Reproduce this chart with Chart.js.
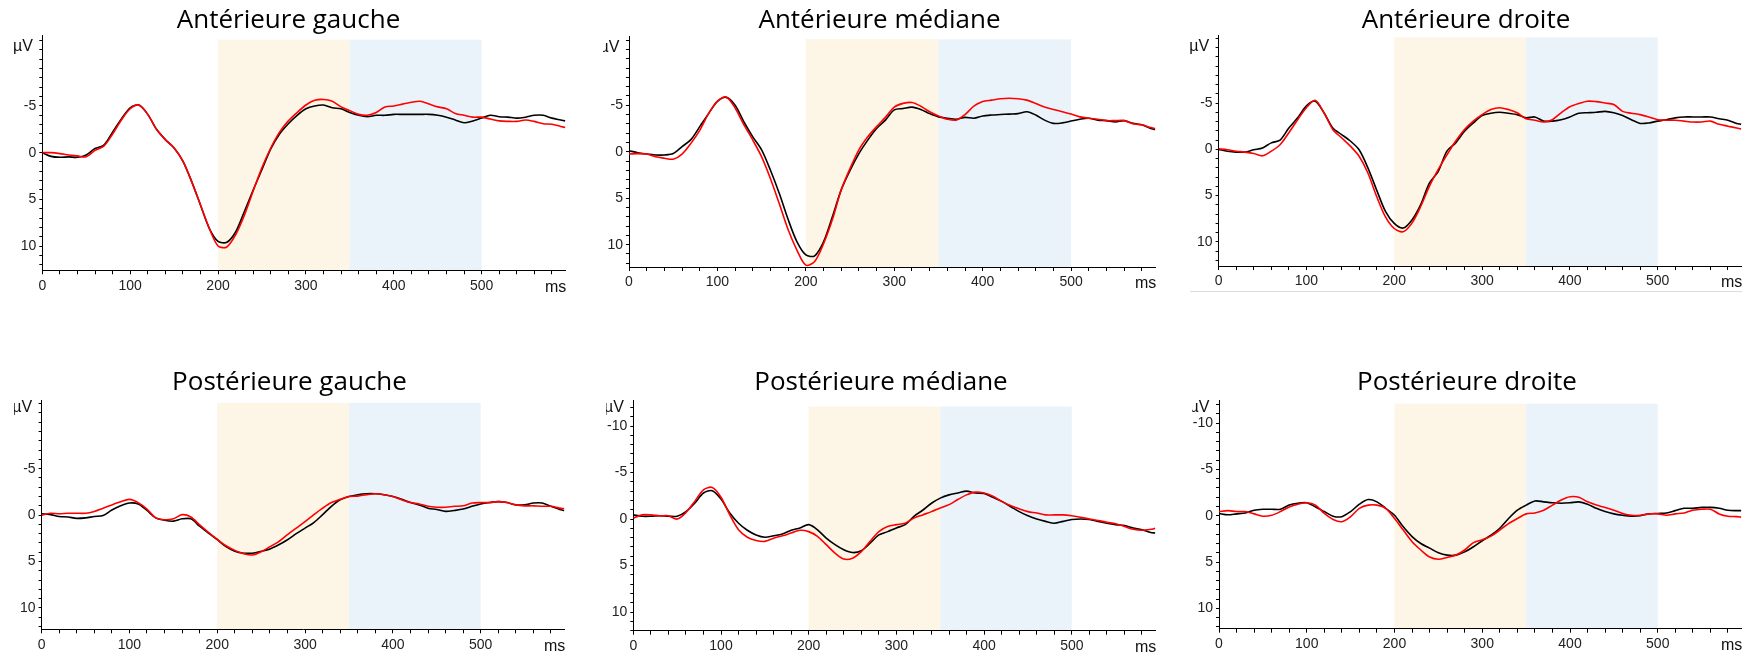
<!DOCTYPE html>
<html>
<head>
<meta charset="utf-8">
<script src="https://cdn.jsdelivr.net/npm/chart.js@4.4.1/dist/chart.umd.min.js"></script>
<style>
  body { margin: 0; background: #fff; width: 1756px; height: 660px; position: relative; overflow: hidden; }
  canvas { position: absolute; }
</style>
</head>
<body>
<script>
// time axis (ms) and the six electrode regions
const timesMs = [0, 10, 20, 30, 40, 50, 60, 70, 80, 90, 100, 110, 120, 130, 140, 150, 160, 170, 180, 190,
  200, 210, 220, 230, 240, 250, 260, 270, 280, 290, 300, 310, 320, 330, 340, 350, 360, 370, 380, 390,
  400, 410, 420, 430, 440, 450, 460, 470, 480, 490, 500, 510, 520, 530, 540, 550, 560, 570, 580, 590, 595]

const panelTitles = ['Antérieure gauche', 'Antérieure médiane', 'Antérieure droite',
  'Postérieure gauche', 'Postérieure médiane', 'Postérieure droite']

// µV, negative up
const antGaucheNoir = [0, 0.4, 0.5, 0.45, 0.5, 0.25, -0.45, -0.8, -2.2, -3.6, -4.8, -5.1, -4.1, -2.5, -1.4, -0.5, 0.9, 3.1, 5.6, 8.1,
  9.5, 9.6, 8.5, 6.3, 4.0, 1.8, -0.4, -2.0, -3.1, -4.0, -4.7, -5.0, -5.1, -4.8, -4.7, -4.3, -4.0, -3.85, -4.0, -4.0,
  -4.1, -4.1, -4.1, -4.1, -4.1, -4.0, -3.8, -3.5, -3.2, -3.4, -3.7, -4.0, -3.85, -3.8, -3.7, -3.8, -4.0, -4.0, -3.7, -3.5, -3.4]
const antGaucheRouge = [0, 0, 0.1, 0.25, 0.35, 0.45, -0.25, -0.7, -2.0, -3.5, -4.7, -5.1, -4.1, -2.5, -1.4, -0.5, 0.9, 3.1, 5.6, 8.1,
  10.0, 10.1, 8.8, 6.7, 4.1, 1.6, -0.5, -2.2, -3.4, -4.3, -5.1, -5.6, -5.7, -5.5, -4.9, -4.5, -4.1, -4.0, -4.3, -4.9,
  -5.0, -5.2, -5.4, -5.5, -5.2, -4.9, -4.7, -4.2, -4.0, -3.8, -3.8, -3.6, -3.4, -3.35, -3.35, -3.5, -3.35, -3.1, -3.05, -2.8, -2.7]

const antMedianeNoir = [-0.1, 0.1, 0.25, 0.35, 0.35, 0.2, -0.55, -1.3, -2.7, -4.1, -5.4, -5.85, -5.0, -3.2, -1.6, -0.2, 2.0, 4.5, 7.3, 9.7,
  11.1, 11.2, 9.7, 7.0, 4.1, 2.0, 0.2, -1.25, -2.5, -3.4, -4.5, -4.65, -4.8, -4.55, -4.1, -3.75, -3.6, -3.5, -3.7, -3.6,
  -3.85, -3.95, -4.0, -4.05, -4.1, -4.3, -3.95, -3.4, -3.05, -3.1, -3.3, -3.5, -3.6, -3.4, -3.35, -3.2, -3.35, -3.05, -2.9, -2.5, -2.4]
const antMedianeRouge = [0.25, 0.2, 0.25, 0.55, 0.7, 0.8, 0.25, -0.9, -2.3, -4.1, -5.45, -5.9, -4.7, -2.9, -1.25, 0.55, 2.9, 5.6, 8.4, 10.6,
  12.2, 11.8, 9.9, 7.3, 4.1, 1.8, -0.2, -1.6, -2.7, -3.7, -4.8, -5.2, -5.3, -4.9, -4.3, -3.85, -3.5, -3.4, -4.0, -4.9,
  -5.4, -5.55, -5.7, -5.75, -5.7, -5.55, -5.2, -4.8, -4.55, -4.3, -4.05, -3.75, -3.6, -3.5, -3.35, -3.35, -3.35, -3.0, -2.9, -2.6, -2.5]

const antDroiteNoir = [0, 0.2, 0.3, 0.3, 0.05, -0.15, -0.7, -1.0, -2.3, -3.4, -4.7, -5.2, -3.95, -2.3, -1.6, -0.9, 0.05, 2.0, 4.4, 6.7,
  8.0, 8.5, 7.65, 6.0, 3.65, 2.4, 0.2, -0.7, -1.95, -2.85, -3.65, -3.9, -4.0, -3.9, -3.75, -3.4, -3.5, -3.05, -3.05, -3.2,
  -3.5, -3.9, -3.95, -4.0, -4.1, -3.95, -3.65, -3.2, -2.8, -2.85, -3.05, -3.2, -3.4, -3.5, -3.5, -3.5, -3.5, -3.3, -3.15, -2.8, -2.7]
const antDroiteRouge = [-0.05, 0.05, 0.2, 0.3, 0.45, 0.7, 0.2, -0.5, -1.8, -3.2, -4.5, -5.3, -3.95, -2.15, -1.25, -0.35, 0.75, 2.55, 5.1, 7.3,
  8.55, 8.9, 8.0, 6.2, 4.0, 2.2, 0.6, -0.9, -2.15, -3.05, -3.75, -4.3, -4.5, -4.3, -3.95, -3.3, -3.15, -2.95, -3.2, -3.95,
  -4.6, -4.95, -5.2, -5.15, -5.0, -4.85, -4.1, -3.9, -3.75, -3.5, -3.2, -3.15, -3.15, -3.05, -2.95, -2.95, -3.05, -2.7, -2.5, -2.3, -2.2]

const postGaucheNoir = [-0.15, -0.05, 0.15, 0.2, 0.35, 0.3, 0.15, 0.05, -0.55, -1.0, -1.3, -1.2, -0.5, 0.3, 0.55, 0.65, 0.4, 0.4, 1.2, 1.95,
  2.65, 3.4, 3.9, 4.1, 4.1, 3.9, 3.65, 3.2, 2.65, 2.0, 1.4, 0.8, -0.05, -0.95, -1.65, -2.0, -2.2, -2.3, -2.3, -2.2,
  -2.0, -1.7, -1.35, -1.1, -0.75, -0.6, -0.4, -0.5, -0.65, -0.95, -1.2, -1.35, -1.45, -1.35, -1.1, -1.1, -1.3, -1.3, -0.95, -0.6, -0.5]
const postGaucheRouge = [0, -0.2, -0.15, -0.2, -0.2, -0.2, -0.4, -0.75, -1.1, -1.45, -1.7, -1.35, -0.65, 0.3, 0.5, 0.4, -0.05, 0.2, 1.05, 1.85,
  2.6, 3.3, 3.8, 4.15, 4.3, 3.95, 3.4, 2.85, 2.1, 1.4, 0.7, -0.05, -0.75, -1.35, -1.7, -2.0, -2.05, -2.2, -2.3, -2.2,
  -2.0, -1.65, -1.35, -1.2, -0.95, -0.85, -0.85, -0.95, -1.0, -1.3, -1.35, -1.35, -1.45, -1.35, -1.1, -1.0, -1.0, -0.95, -0.95, -0.75, -0.7]

const postMedianeNoir = [-0.45, -0.3, -0.3, -0.35, -0.3, -0.3, -0.8, -1.7, -2.8, -3.05, -2.15, -0.65, 0.45, 1.2, 1.7, 1.95, 1.8, 1.6, 1.2, 0.95,
  0.6, 1.15, 2.05, 2.75, 3.3, 3.6, 3.4, 2.6, 1.7, 1.35, 0.95, 0.6, -0.3, -0.95, -1.7, -2.25, -2.6, -2.8, -3.0, -2.8,
  -2.75, -2.35, -1.9, -1.35, -0.8, -0.35, 0, 0.25, 0.45, 0.25, 0.05, 0, 0.05, 0.25, 0.45, 0.6, 0.7, 0.95, 1.15, 1.45, 1.5]
const postMedianeRouge = [-0.1, -0.45, -0.45, -0.35, -0.35, 0, -0.7, -1.9, -3.15, -3.4, -2.35, -0.45, 1.15, 1.95, 2.3, 2.4, 2.05, 1.8, 1.5, 1.2,
  1.35, 1.85, 2.75, 3.65, 4.3, 4.2, 3.5, 2.4, 1.35, 0.8, 0.6, 0.45, -0.1, -0.45, -0.8, -1.2, -1.55, -2.1, -2.6, -2.9,
  -2.8, -2.45, -1.9, -1.45, -1.1, -0.8, -0.65, -0.45, -0.45, -0.45, -0.35, -0.2, 0, 0.15, 0.35, 0.5, 0.8, 1.1, 1.2, 1.1, 1.0]

const postDroiteNoir = [-0.25, -0.1, -0.2, -0.3, -0.6, -0.7, -0.7, -0.7, -1.15, -1.35, -1.4, -0.95, -0.45, 0.05, 0.1, -0.45, -1.25, -1.75, -1.5, -0.8,
  -0.05, 1.2, 2.25, 3.0, 3.5, 4.0, 4.25, 4.25, 3.9, 3.35, 2.7, 2.1, 1.35, 0.3, -0.6, -1.15, -1.6, -1.5, -1.4, -1.35,
  -1.4, -1.5, -1.25, -0.8, -0.45, -0.2, -0.05, 0.05, 0, -0.2, -0.25, -0.3, -0.55, -0.8, -0.8, -0.9, -0.9, -0.8, -0.6, -0.55, -0.55]
const postDroiteRouge = [-0.45, -0.55, -0.45, -0.45, -0.2, 0.05, -0.05, -0.45, -0.95, -1.25, -1.4, -1.15, -0.25, 0.4, 0.65, 0.1, -0.8, -1.15, -1.15, -0.8,
  0.3, 1.55, 2.8, 3.7, 4.45, 4.7, 4.5, 4.25, 3.7, 2.9, 2.6, 2.2, 1.55, 0.85, 0.3, -0.2, -0.3, -0.6, -1.15, -1.7,
  -2.05, -2.0, -1.5, -1.15, -0.9, -0.6, -0.25, -0.05, -0.05, -0.2, -0.2, -0.05, -0.2, -0.3, -0.6, -0.7, -0.7, -0.2, 0.05, 0.1, 0.15]

const seriesNoir = [antGaucheNoir, antMedianeNoir, antDroiteNoir, postGaucheNoir, postMedianeNoir, postDroiteNoir]
const seriesRouge = [antGaucheRouge, antMedianeRouge, antDroiteRouge, postGaucheRouge, postMedianeRouge, postDroiteRouge]

// analysis windows (ms)
const windowsMs = [[200, 350], [350, 500]]
const windowColors = ['#fdf5e5', '#ebf3fa']

// where each little plot sits on the page
const panels = [
  {left: 11,   top: 0,   width: 555, height: 300, axisW: 31.3, titleTop: 7.3, titleBottom: 1.7, axisBottom: 270.3, yMin: -12.6,  yMax: 12.6, minus10: false, unitDy: 12},
  {left: 603,  top: 0,   width: 553, height: 300, axisW: 26,   titleTop: 7.3, titleBottom: 2.7, axisBottom: 267,   yMin: -12.45, yMax: 12.4, minus10: false, unitDy: 12},
  {left: 1190, top: 0,   width: 552, height: 300, axisW: 28.6, titleTop: 7.3, titleBottom: 1.7, axisBottom: 266,   yMin: -12.35, yMax: 12.6, minus10: false, unitDy: 12, frame: true},
  {left: 14,   top: 360, width: 551, height: 300, axisW: 27.6, titleTop: 9.7, titleBottom: 4.3, axisBottom: 269.3, yMin: -12.4,  yMax: 12.3, minus10: false, unitDy: 7.5},
  {left: 606,  top: 360, width: 550, height: 300, axisW: 27.3, titleTop: 9.7, titleBottom: 4.3, axisBottom: 270.7, yMin: -12.8,  yMax: 12.0, minus10: true,  unitDy: 7.5},
  {left: 1192, top: 360, width: 550, height: 300, axisW: 27,   titleTop: 9.7, titleBottom: 4.3, axisBottom: 268.7, yMin: -12.5,  yMax: 12.2, minus10: true,  unitDy: 7.5}
]

const tickFont = {family: 'Liberation Sans, Arial, sans-serif', size: 14}

// shaded windows + unit labels
const decorPlugin = {
  id: 'decor',
  beforeDraw(chart) {
    let ctx = chart.ctx
    let xs = chart.scales.x
    let ys = chart.scales.y
    let top = ys.getPixelForValue(-12.1)
    let bottom = chart.chartArea.bottom
    ctx.save()
    windowsMs.forEach((w, i) => {
      let x0 = xs.getPixelForValue(w[0])
      let x1 = xs.getPixelForValue(w[1])
      ctx.fillStyle = windowColors[i]
      ctx.fillRect(x0, top, x1 - x0, bottom - top)
    })
    ctx.restore()
  },
  afterDraw(chart) {
    let ctx = chart.ctx
    let area = chart.chartArea
    let p = chart.options.plugins.decor
    ctx.save()
    ctx.fillStyle = '#111'
    ctx.font = '16px "Liberation Sans", Arial, sans-serif'
    ctx.textBaseline = 'middle'
    ctx.textAlign = 'right'
    ctx.fillText('µV', area.left - 9.5, area.top + p.unitDy)
    ctx.textAlign = 'left'
    ctx.fillText('ms', area.right - 21, area.bottom + 17)
    if (p.frame) {
      ctx.strokeStyle = '#dcdcdc'
      ctx.lineWidth = 1
      ctx.beginPath()
      ctx.moveTo(0, 291.5)
      ctx.lineTo(chart.width, 291.5)
      ctx.stroke()
    }
    ctx.restore()
  }
}

panels.forEach((p, i) => {
  let canvas = document.createElement('canvas')
  canvas.width = p.width
  canvas.height = p.height
  canvas.style.left = p.left + 'px'
  canvas.style.top = p.top + 'px'
  canvas.style.width = p.width + 'px'
  canvas.style.height = p.height + 'px'
  document.body.appendChild(canvas)

  let noir = timesMs.map((t, k) => ({x: t, y: seriesNoir[i][k]}))
  let rouge = timesMs.map((t, k) => ({x: t, y: seriesRouge[i][k]}))

  new Chart(canvas, {
    type: 'line',
    data: {
      datasets: [
        {data: noir, borderColor: '#000000', borderWidth: 1.6, pointRadius: 0, tension: 0.3, order: 1},
        {data: rouge, borderColor: '#ff0000', borderWidth: 1.6, pointRadius: 0, tension: 0.3, order: 0}
      ]
    },
    options: {
      responsive: false,
      animation: false,
      devicePixelRatio: 1,
      layout: {padding: 0},
      plugins: {
        legend: {display: false},
        tooltip: {enabled: false},
        title: {
          display: true,
          text: panelTitles[i],
          color: '#000',
          font: {family: 'Open Sans, sans-serif', size: 26, weight: 'normal', lineHeight: 1.0},
          padding: {top: p.titleTop, bottom: p.titleBottom}
        },
        decor: {frame: !!p.frame, unitDy: p.unitDy}
      },
      scales: {
        x: {
          type: 'linear',
          min: 0,
          max: 596,
          afterFit: s => { s.height = p.height - p.axisBottom },
          ticks: {
            stepSize: 20, includeBounds: false, autoSkip: false, maxRotation: 0, padding: 3,
            color: '#222', font: tickFont,
            callback: v => v % 100 === 0 ? String(v) : ''
          },
          grid: {drawOnChartArea: false, drawTicks: true, tickLength: 4, color: '#000'},
          border: {color: '#000', width: 1}
        },
        y: {
          type: 'linear',
          reverse: true,
          min: p.yMin,
          max: p.yMax,
          afterFit: s => { s.width = p.axisW },
          ticks: {
            stepSize: 1, includeBounds: false, autoSkip: false, padding: 3,
            color: '#222', font: tickFont,
            callback: v => (v % 5 === 0 && (v !== -10 || p.minus10)) ? String(v) : ''
          },
          grid: {drawOnChartArea: false, drawTicks: true, tickLength: 3, color: '#000'},
          border: {color: '#000', width: 1}
        }
      }
    },
    plugins: [decorPlugin]
  })
})
</script>
</body>
</html>
